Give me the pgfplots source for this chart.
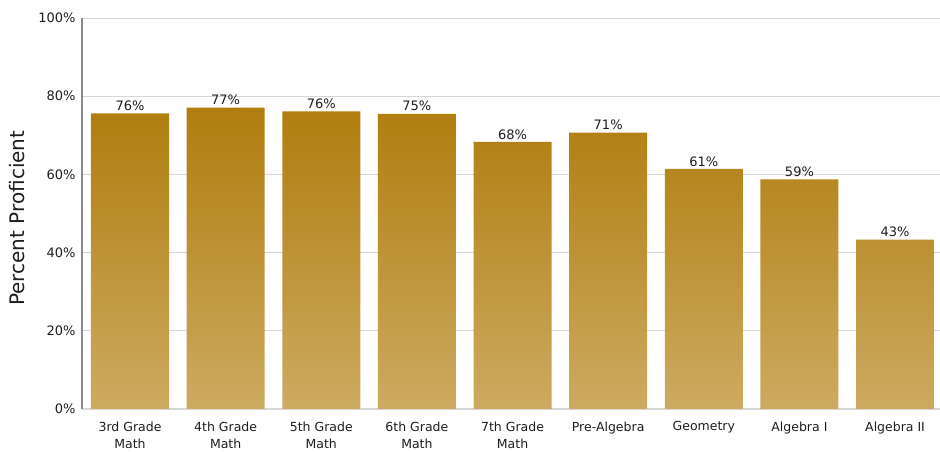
\documentclass[border=0pt]{standalone}
\usepackage{pgfplots}
\pgfplotsset{compat=1.18}
\usepackage{fontspec}
\setmainfont{DejaVu Sans}
\definecolor{bartop}{RGB}{176,125,14}
\definecolor{barbot}{RGB}{204,170,96}
\definecolor{txt}{RGB}{30,30,30}
\definecolor{gridc}{RGB}{214,214,214}
\definecolor{yaxc}{RGB}{140,140,140}
\begin{document}
\begin{tikzpicture}[x=1pt,y=1pt]
\path[use as bounding box] (0,0) rectangle (940,452);
\begin{axis}[
  at={(82pt,43pt)}, anchor=south west,
  scale only axis, width=858pt, height=391pt,
  xmin=-0.502, xmax=8.47, ymin=0, ymax=100,
  ytick={0,20,40,60,80,100},
  yticklabel={\pgfmathprintnumber{\tick}\%},
  /pgf/number format/assume math mode=true,
  xtick={0,1,2,3,4,5,6,7,8},
  xticklabels={{3rd Grade\\Math},{4th Grade\\Math},{5th Grade\\Math},{6th Grade\\Math},{7th Grade\\Math},{Pre-Algebra},{Geometry},{Algebra I},{Algebra II}},
  ymajorgrids, grid style={color=gridc, line width=0.9pt},
  major tick length=0pt,
  axis x line*=bottom, axis y line*=left,
  x axis line style={color=gridc, line width=1.6pt, -},
  y axis line style={color=yaxc, line width=1.3pt, -},
  tick label style={font=\fontsize{13}{15}\selectfont, text=txt},
  xticklabel style={align=center, yshift=-9pt, font=\fontsize{12.5}{17}\selectfont},
  yticklabel style={xshift=-3pt},
  ylabel={Percent Proficient},
  ylabel style={at={(axis description cs:-0.0758,0.488)}, anchor=center, font=\fontsize{20}{22}\selectfont, text=txt},
  clip=false,
]
\addplot[ybar, bar width=0.816, bar shift=0pt, draw=none,
  top color=bartop, bottom color=barbot,
  nodes near coords, point meta=explicit symbolic,
  nodes near coords style={font=\fontsize{13}{15}\selectfont, text=txt, anchor=south, inner sep=2.5pt}]
coordinates {
(0,75.6) [76\%]
(1,77.1) [77\%]
(2,76.1) [76\%]
(3,75.5) [75\%]
(4,68.3) [68\%]
(5,70.7) [71\%]
(6,61.4) [61\%]
(7,58.7) [59\%]
(8,43.3) [43\%]
};
\end{axis}
\end{tikzpicture}
\end{document}
